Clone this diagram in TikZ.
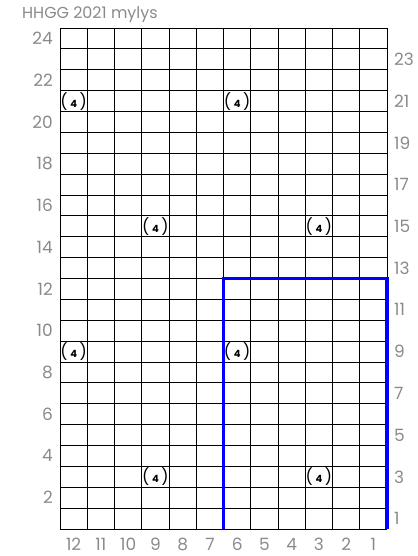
\documentclass[tikz,border=0pt]{standalone}
\usepackage{fontspec}
\setmainfont{Poppins}
\usetikzlibrary{positioning}
\definecolor{labelgray}{HTML}{8A8A8A}
\definecolor{edgeblue}{HTML}{0000FF}
\tikzset{
  gridline/.style={line width=0.8pt,black},
  numlabel/.style={font=\fontsize{17}{17}\selectfont,text=labelgray,inner sep=0pt},
  titlelabel/.style={font=\fontsize{16}{16}\selectfont,text=labelgray,inner sep=0pt},
  marker/.style={font=\fontsize{16}{16}\selectfont,inner sep=0pt},
  blueline/.style={line width=3.5pt,edgeblue},
}
\begin{document}
\begin{tikzpicture}[x=1bp,y=1bp]
    \useasboundingbox (0,0) rectangle (417,556);
    \def\cw{27.25}
    \def\ch{20.875}

    % Title
    \node[titlelabel,anchor=west] (title) at (22,541) {HHGG 2021 mylys};

    % Grid
    \foreach \i in {0,...,12}
      \draw[gridline] (60+\i*\cw,27) -- (60+\i*\cw,528);
    \foreach \j in {0,...,24}
      \draw[gridline] (60,27+\j*\ch) -- (387,27+\j*\ch);

    % Row numbers (even left, odd right)
    \foreach \r in {2,4,...,24}
      \node[numlabel,anchor=east] (row\r) at (53,27+\r*\ch-0.5*\ch) {\r};
    \foreach \r in {1,3,...,23}
      \node[numlabel,anchor=west] (row\r) at (394,27+\r*\ch-0.5*\ch) {\r};

    % Column numbers
    \foreach \c in {1,...,12}
      \node[numlabel,anchor=base] (col\c) at (387-\c*\cw+0.5*\cw,5.5) {\c};

    % Markers
    \foreach \c/\r in {12/21,6/21,9/15,3/15,12/9,6/9,9/3,3/3}
      \node[marker] (m\c-\r) at (387-\c*\cw+0.5*\cw,27+\r*\ch-0.5*\ch)
        {(\,{\fontsize{10}{10}\selectfont\bfseries 4}\,)};

    % Blue outline
    \coordinate (bl) at (60+6*\cw,27);
    \coordinate (tl) at (60+6*\cw,27+12*\ch);
    \coordinate (tr) at (387,27+12*\ch);
    \coordinate (br) at (387,27);
    \draw[blueline] (bl) -- (tl) -- (tr) -- (br);
\end{tikzpicture}
\end{document}
